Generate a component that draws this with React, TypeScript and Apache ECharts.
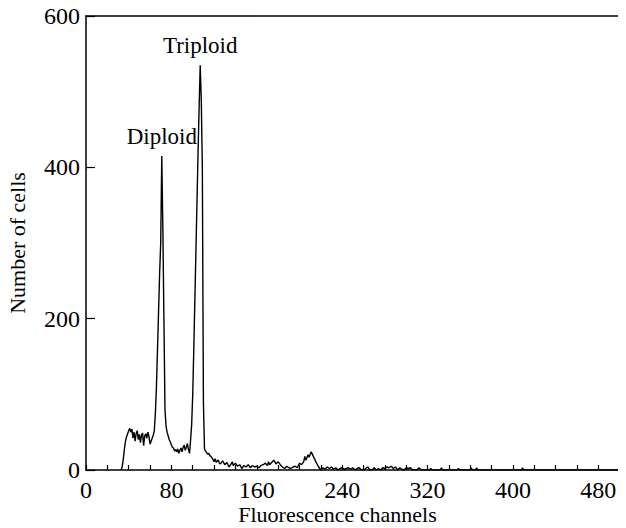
import React, { useEffect, useRef } from "react";
import * as echarts from "echarts";

const channels: number[] = [
  33, 34, 35, 36, 37, 38, 39, 40, 41, 42, 43, 44, 45, 46, 47, 48, 49, 50, 51, 52, 53, 54, 55, 56, 57, 58, 59, 60, 61, 62, 63, 64,
  65, 66, 67, 68, 69, 70, 71, 72, 73, 74, 75, 76, 77, 78, 79, 80, 81, 82, 83, 84, 85, 86, 87, 88, 89, 90, 91, 92, 93, 94, 95, 96, 97, 98,
  99, 100, 101, 102, 103, 104, 105, 106, 107, 108, 109, 110, 111, 112, 113, 114, 115, 116, 117, 118, 119, 120, 121, 122, 123, 124, 125,
  126, 128, 130, 132, 134, 136, 137, 138, 140, 142, 144, 146, 148, 150, 152, 154, 156, 158, 160, 162, 164, 166, 168, 170, 171, 172, 174,
  176, 178, 180, 182, 184, 186, 188, 190, 192, 194, 196, 198, 200, 202, 204, 205, 206, 208, 209, 211, 213, 215, 216, 218, 219, 220,
  222, 224, 226, 228, 230, 232, 234, 236, 238, 240, 242, 244, 246, 248, 250, 252, 254, 256, 258, 260, 262, 264, 266, 268, 270, 272,
  274, 276, 278, 280, 282, 284, 286, 288, 290, 292, 294, 296, 298, 300, 302, 304, 306, 310, 312, 314, 322, 323, 324, 332, 333, 334,
  348, 349, 350, 360, 361, 362, 365, 366, 367, 408, 409, 410, 505,
];

const counts: number[] = [
  0, 5, 15, 28, 38, 44, 48, 52, 55, 50, 54, 42, 50, 38, 48, 52, 40, 47, 36, 46, 49, 32, 45, 48, 42, 50, 44, 34, 38, 42, 46, 52,
  75, 110, 160, 210, 260, 300, 415, 320, 200, 80, 58, 50, 45, 40, 37, 33, 30, 29, 25, 27, 24, 28, 22, 26, 29, 24, 30, 33, 26, 30, 35, 27, 22, 40,
  60, 100, 160, 225, 290, 355, 420, 480, 535, 490, 400, 90, 28, 25, 23, 21, 22, 19, 18, 16, 14, 11, 15, 10, 12, 13, 9,
  8, 12, 7, 10, 4, 8, 11, 6, 9, 5, 7, 2, 6, 4, 7, 3, 6, 4, 5, 3, 6, 7, 9, 6, 11, 7, 10,
  13, 8, 11, 7, 4, 2, 5, 3, 2, 4, 5, 3, 9, 7, 11, 18, 13, 20, 17, 24, 18, 12, 9, 4, 2, 0,
  3, 1, 4, 2, 4, 1, 3, 0, 2, 3, 1, 2, 3, 1, 3, 0, 2, 3, 0, 0, 2, 4, 0, 0, 3, 0,
  2, 0, 3, 2, 4, 3, 5, 2, 4, 0, 3, 1, 0, 3, 2, 3, 0, 0, 3, 0, 0, 2, 0, 0, 3, 0,
  0, 2, 0, 0, 3, 0, 0, 3, 0, 0, 3, 0, 0,
];

const peakLabels = [
  { name: "Diploid", channel: 71, count: 415 },
  { name: "Triploid", channel: 107, count: 535 },
];

const xMax = 505;
const yMax = 600;

const FONT = "'Liberation Serif', 'Times New Roman', serif";

export default function App() {
  const ref = useRef<HTMLDivElement>(null);
  useEffect(() => {
    if (!ref.current) return;
    const chart = echarts.init(ref.current, undefined, { renderer: "svg" });
    const data = channels.map((c, i) => [c, counts[i]]);
    chart.setOption({
      animation: false,
      backgroundColor: "#ffffff",
      textStyle: { fontFamily: FONT },
      grid: { left: 86, right: 1, top: 16, bottom: 58, containLabel: false, outerBoundsMode: "none" },
      xAxis: [
        {
          type: "value",
          min: 0,
          max: xMax,
          interval: 20,
          name: "Fluorescence channels",
          nameLocation: "middle",
          nameGap: 33,
          nameMoveOverlap: false,
          nameTextStyle: { fontFamily: FONT, fontSize: 22, color: "#000", padding: [0, 36, 0, 0] },
          axisLine: { show: true, lineStyle: { color: "#000", width: 1.5 } },
          axisTick: { show: true, inside: true, length: 5, lineStyle: { color: "#000", width: 1.2 } },
          axisLabel: {
            fontFamily: FONT,
            fontSize: 24,
            color: "#000",
            margin: 8,
            showMaxLabel: false,
            formatter: (v: number) => (v % 80 === 0 ? String(v) : ""),
          },
          splitLine: { show: false },
        },
        {
          type: "value",
          position: "top",
          min: 0,
          max: xMax,
          axisLine: { show: true, lineStyle: { color: "#000", width: 1.5 } },
          axisTick: { show: false },
          axisLabel: { show: false },
          splitLine: { show: false },
        },
      ],
      yAxis: {
        type: "value",
        min: 0,
        max: yMax,
        interval: 200,
        name: "Number of cells",
        nameLocation: "middle",
        nameGap: 58,
        nameMoveOverlap: false,
        nameTextStyle: { fontFamily: FONT, fontSize: 22, color: "#000" },
        axisLine: { show: true, lineStyle: { color: "#000", width: 1.5 } },
        axisTick: { show: true, inside: true, length: 9, lineStyle: { color: "#000", width: 1.2 } },
        axisLabel: { fontFamily: FONT, fontSize: 24, color: "#000", margin: 6 },
        splitLine: { show: false },
      },
      series: [
        {
          type: "line",
          data,
          showSymbol: false,
          symbol: "none",
          lineStyle: { color: "#000", width: 1.4 },
          markPoint: {
            symbol: "circle",
            symbolSize: 0,
            label: {
              show: true,
              position: "top",
              distance: 8,
              fontFamily: FONT,
              fontSize: 23,
              color: "#000",
              formatter: "{b}",
            },
            data: peakLabels.map((p) => ({ name: p.name, coord: [p.channel, p.count] })),
          },
        },
      ],
    });
    return () => chart.dispose();
  }, []);
  return <div ref={ref} style={{ width: 626, height: 528, marginLeft: -8, marginTop: -8 }} />;
}
